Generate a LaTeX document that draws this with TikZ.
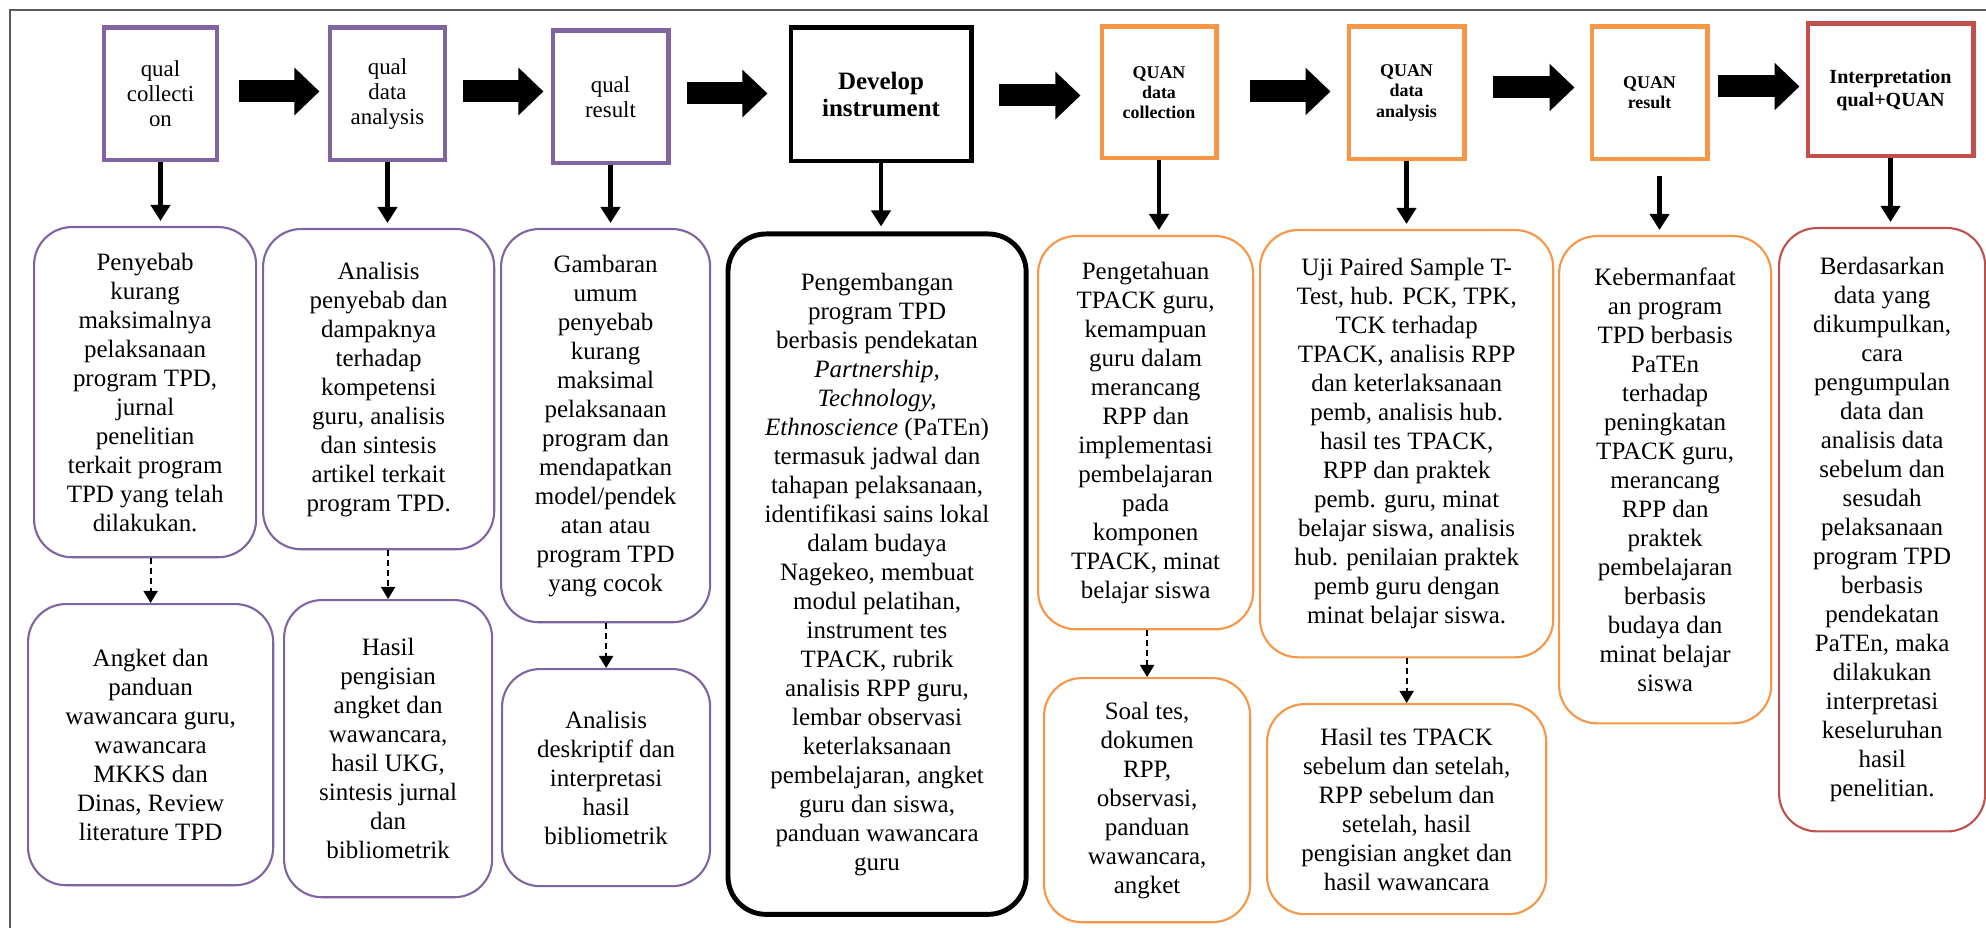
\documentclass[tikz,border=0pt]{standalone}
\usepackage{fontspec}
\setmainfont{Liberation Serif}
\usepackage{xcolor}
\usetikzlibrary{positioning,arrows.meta}

\definecolor{qualc}{HTML}{8064A2}
\definecolor{quanc}{HTML}{F79646}
\definecolor{mixc}{HTML}{C0504D}
\definecolor{framec}{HTML}{5A5A5A}

\begin{document}
\begin{tikzpicture}[x=0.01cm, y=-0.01cm,
  stage/.style={draw, line width=1.4pt, align=center, inner sep=2pt, anchor=north west},
  qualst/.style={stage, draw=qualc, font=\fontsize{6.5}{7.1}\selectfont},
  quanst/.style={stage, draw=quanc, font=\bfseries\fontsize{5.1}{5.7}\selectfont},
  detail/.style={draw, rounded corners=0.38cm, line width=0.6pt, align=center, inner sep=2pt,
                 anchor=north west, font=\fontsize{7.1}{8.25}\selectfont},
  bigarr/.style={line width=0.22cm, -{Triangle[length=0.25cm, width=0.46cm]}},
  downarr/.style={line width=1.4pt, -{Triangle[length=0.16cm, width=0.19cm]}, shorten >=0.05cm},
  dasharr/.style={line width=0.5pt, dash pattern=on 0.06cm off 0.04cm, -{Triangle[length=0.12cm, width=0.14cm]}}]
  \useasboundingbox (0,0) rectangle (1986,928);
  \draw[framec, line width=0.6pt] (10,928) -- (10,10) -- (1986,10);

  % top row: phases
  \node[qualst, minimum width=1.13cm, minimum height=1.32cm] (qcol) at (101.5,25.5) {qual\\collecti\\on};
  \node[qualst, minimum width=1.15cm, minimum height=1.32cm] (qana) at (327.5,25.5) {qual\\data\\analysis};
  \node[qualst, minimum width=1.15cm, minimum height=1.32cm] (qres) at (550.5,28.5) {qual\\result};
  \node[stage, minimum width=1.80cm, minimum height=1.33cm, font=\bfseries\fontsize{7.1}{7.4}\selectfont]
    (dev) at (788.5,25.5) {Develop\\instrument};
  \node[quanst, minimum width=1.14cm, minimum height=1.31cm] (Qcol) at (1099.5,24.5) {QUAN\\data\\collection};
  \node[quanst, minimum width=1.15cm, minimum height=1.32cm] (Qana) at (1346.5,24.5) {QUAN\\data\\analysis};
  \node[quanst, minimum width=1.15cm, minimum height=1.32cm] (Qres) at (1589.5,24.5) {QUAN\\result};
  \node[stage, draw=mixc, minimum width=1.65cm, minimum height=1.32cm, font=\bfseries\fontsize{5.7}{6.5}\selectfont]
    (intp) at (1805.5,21.5) {Interpretation\\qual+QUAN};

  % second row: activities
  \node[detail, draw=qualc, minimum width=2.22cm, minimum height=3.30cm] (cause) at (33,226)
    {Penyebab\\kurang\\maksimalnya\\pelaksanaan\\program TPD,\\jurnal\\penelitian\\terkait program\\TPD yang telah\\dilakukan.};
  \node[detail, draw=qualc, minimum width=2.31cm, minimum height=3.20cm] (impact) at (262,228)
    {Analisis\\penyebab dan\\dampaknya\\terhadap\\kompetensi\\guru, analisis\\dan sintesis\\artikel terkait\\program TPD.};
  \node[detail, draw=qualc, minimum width=2.09cm, minimum height=3.93cm] (overview) at (500,228)
    {Gambaran\\umum\\penyebab\\kurang\\maksimal\\pelaksanaan\\program dan\\mendapatkan\\model/pendek\\atan atau\\program TPD\\yang cocok};
  \node[detail, line width=1.4pt, minimum width=2.98cm, minimum height=6.80cm] (paten) at (725.5,231.5)
    {Pengembangan\\program TPD\\berbasis pendekatan\\\textit{Partnership,}\\\textit{Technology,}\\\textit{Ethnoscience} (PaTEn)\\termasuk jadwal dan\\tahapan pelaksanaan,\\identifikasi sains lokal\\dalam budaya\\Nagekeo, membuat\\modul pelatihan,\\instrument tes\\TPACK, rubrik\\analisis RPP guru,\\lembar observasi\\keterlaksanaan\\pembelajaran, angket\\guru dan siswa,\\panduan wawancara\\guru};
  \node[detail, draw=quanc, minimum width=2.15cm, minimum height=3.93cm] (knowl) at (1037,235)
    {Pengetahuan\\TPACK guru,\\kemampuan\\guru dalam\\merancang\\RPP dan\\implementasi\\pembelajaran\\pada\\komponen\\TPACK, minat\\belajar siswa};
  \node[detail, draw=quanc, minimum width=2.93cm, minimum height=4.27cm] (ttest) at (1259,229)
    {Uji Paired Sample T-\\Test, hub. PCK, TPK,\\TCK terhadap\\TPACK, analisis RPP\\dan keterlaksanaan\\pemb, analisis hub.\\hasil tes TPACK,\\RPP dan praktek\\pemb. guru, minat\\belajar siswa, analisis\\hub. penilaian praktek\\pemb guru dengan\\minat belajar siswa.};
  \node[detail, draw=quanc, minimum width=2.12cm, minimum height=4.87cm] (benefit) at (1558,235)
    {Kebermanfaat\\an program\\TPD berbasis\\PaTEn\\terhadap\\peningkatan\\TPACK guru,\\merancang\\RPP dan\\praktek\\pembelajaran\\berbasis\\budaya dan\\minat belajar\\siswa};
  \node[detail, draw=mixc, minimum width=2.06cm, minimum height=6.03cm] (concl) at (1778,227)
    {Berdasarkan\\data yang\\dikumpulkan,\\cara\\pengumpulan\\data dan\\analisis data\\sebelum dan\\sesudah\\pelaksanaan\\program TPD\\berbasis\\pendekatan\\PaTEn, maka\\dilakukan\\interpretasi\\keseluruhan\\hasil\\penelitian.};

  % third row: instruments and data
  \node[detail, draw=qualc, minimum width=2.45cm, minimum height=2.81cm] (survey) at (27,603)
    {Angket dan\\panduan\\wawancara guru,\\wawancara\\MKKS dan\\Dinas, Review\\literature TPD};
  \node[detail, draw=qualc, minimum width=2.08cm, minimum height=2.97cm] (fill) at (283,599)
    {Hasil\\pengisian\\angket dan\\wawancara,\\hasil UKG,\\sintesis jurnal\\dan\\bibliometrik};
  \node[detail, draw=qualc, minimum width=2.08cm, minimum height=2.17cm] (biblio) at (501,668)
    {Analisis\\deskriptif dan\\interpretasi\\hasil\\bibliometrik};
  \node[detail, draw=quanc, minimum width=2.06cm, minimum height=2.44cm] (tests) at (1043,677)
    {Soal tes,\\dokumen\\RPP,\\observasi,\\panduan\\wawancara,\\angket};
  \node[detail, draw=quanc, minimum width=2.79cm, minimum height=2.10cm] (prepost) at (1266,703)
    {Hasil tes TPACK\\sebelum dan setelah,\\RPP sebelum dan\\setelah, hasil\\pengisian angket dan\\hasil wawancara};

  % connectors
  \foreach \a/\b/\s/\e/\dy in {qcol/qana/0.19/0.08/0.025, qana/qres/0.15/0.07/0.025,
                               qres/dev/0.16/0.21/0.035, dev/Qcol/0.25/0.19/-0.01,
                               Qcol/Qana/0.31/0.16/0.01, Qana/Qres/0.26/0.15/0.055,
                               Qres/intp/0.08/0.06/0.065}
    \draw[bigarr, shorten <=\s cm, shorten >=\e cm]
      ([yshift=\dy cm]\a.east) -- ([yshift=\dy cm]\a.east -| \b.west);
  \foreach \a/\b in {qcol/cause, qana/impact, qres/overview, dev/paten,
                     Qcol/knowl, Qana/ttest, intp/concl}
    \draw[downarr] (\a.south) -- (\a.south |- \b.north);
  \draw[downarr] ([xshift=0.1cm, yshift=-0.14cm]Qres.south) -- ([xshift=0.1cm]Qres.south |- benefit.north);
  \foreach \a/\b in {cause/survey, impact/fill, overview/biblio, knowl/tests, ttest/prepost}
    \draw[dasharr] (\a.south -| \b.north) -- (\b.north);
\end{tikzpicture}
\end{document}
